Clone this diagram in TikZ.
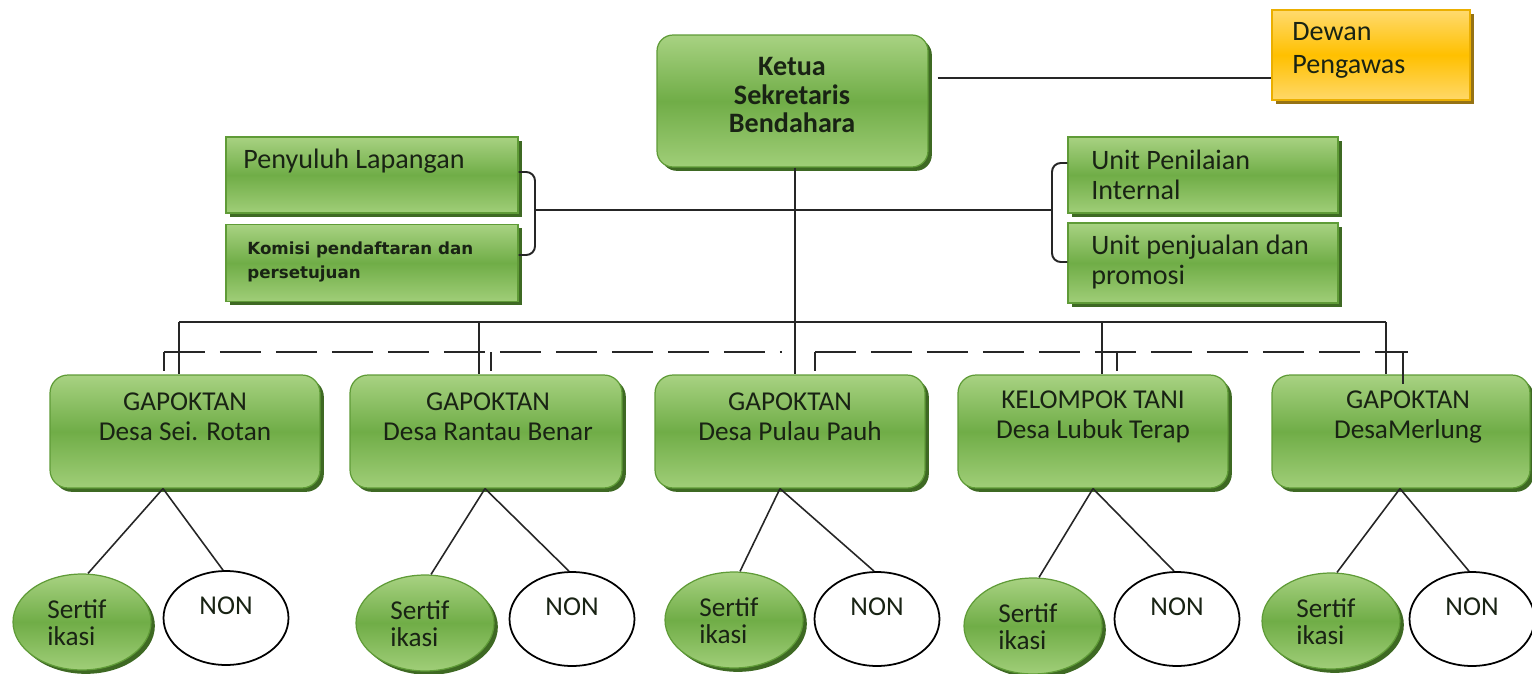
\documentclass[tikz,border=0pt]{standalone}
\usepackage{fontspec}
\setmainfont{Carlito}
\newfontfamily\komfont{DejaVu Sans}
\usetikzlibrary{shapes.geometric,shadows,calc}
\definecolor{gtop}{RGB}{168,210,130}
\definecolor{gmid}{RGB}{112,173,71}
\definecolor{gbot}{RGB}{160,206,120}
\definecolor{gborder}{RGB}{95,155,55}
\definecolor{gshadow}{RGB}{62,105,35}
\definecolor{ytop}{RGB}{255,218,110}
\definecolor{ymid}{RGB}{255,192,0}
\definecolor{ybot}{RGB}{255,216,105}
\definecolor{yborder}{RGB}{235,175,0}
\definecolor{yshadow}{RGB}{150,115,20}
\definecolor{txt}{RGB}{25,35,20}
\tikzset{
  x=0.02cm, y=-0.02cm,
  gfill/.style={draw=gborder, line width=0.7pt, top color=gtop, bottom color=gbot, middle color=gmid,
    drop shadow={fill=gshadow, shadow xshift=2.2pt, shadow yshift=-2.2pt, opacity=1}},
  sqbox/.style={gfill, rectangle, inner sep=0pt},
  rbox/.style={gfill, rectangle, rounded corners=0.36cm, inner sep=0pt,
    minimum width=5.4cm, minimum height=2.26cm},
  ybox/.style={draw=yborder, line width=0.7pt, top color=ytop, bottom color=ybot, middle color=ymid,
    drop shadow={fill=yshadow, shadow xshift=2.2pt, shadow yshift=-2.2pt, opacity=1},
    rectangle, inner sep=0pt},
  sert/.style={gfill, ellipse, inner sep=0pt, minimum width=2.76cm, minimum height=1.92cm},
  non/.style={draw=black, line width=1pt, fill=white, ellipse, inner sep=0pt, minimum width=2.5cm, minimum height=1.88cm},
  lbl/.style={text=txt, inner sep=0pt, font=\fontsize{16}{17}\selectfont, align=left},
  clbl/.style={text=txt, inner sep=0pt, font=\fontsize{15.5}{17}\selectfont, align=center},
  conn/.style={draw=black!85, line width=1.1pt},
  dconn/.style={draw=black!85, line width=1.1pt, dash pattern=on 0.82cm off 0.3cm},
}
\begin{document}
\begin{tikzpicture}
\useasboundingbox (0,0) rectangle (1532,673);
% top
\node[rbox, rounded corners=0.32cm, minimum width=5.42cm, minimum height=2.64cm] (ketua) at (792.5,101) {};
\node[text=txt, inner sep=0pt, align=center, font=\bfseries\fontsize{16}{16}\selectfont] (ketuat) at (792,95) {Ketua\\Sekretaris\\Bendahara};
\node[ybox, minimum width=3.96cm, minimum height=1.8cm] (dewan) at (1371,55) {};
\node[lbl, anchor=west, font=\fontsize{16}{18.7}\selectfont] (dewant) at (1292,50) {Dewan\\Pengawas};
% side boxes
\node[sqbox, minimum width=5.84cm, minimum height=1.52cm] (pen) at (372,175) {};
\node[lbl, anchor=west] (pent) at (243,161) {Penyuluh Lapangan};
\node[sqbox, minimum width=5.84cm, minimum height=1.54cm] (kom) at (372,263) {};
\node[lbl, anchor=west, font=\komfont\bfseries\fontsize{9.5}{13.6}\selectfont] (komt) at (247,262) {Komisi pendaftaran dan\\persetujuan};
\node[sqbox, minimum width=5.4cm, minimum height=1.52cm] (upi) at (1203,175) {};
\node[lbl, anchor=west] (upit) at (1091,175) {Unit Penilaian\\Internal};
\node[sqbox, minimum width=5.4cm, minimum height=1.6cm] (upj) at (1203,263) {};
\node[lbl, anchor=west] (upjt) at (1091,262) {Unit penjualan dan\\promosi};
% lower boxes
\node[rbox] (g1) at (185,431.5) {};
\node[clbl] (g1t) at (185,417) {GAPOKTAN\\Desa Sei. Rotan};
\node[rbox, minimum width=5.44cm] (g2) at (486,431.5) {};
\node[clbl] (g2t) at (488,417) {GAPOKTAN\\Desa Rantau Benar};
\node[rbox] (g3) at (790,431.5) {};
\node[clbl] (g3t) at (790,417) {GAPOKTAN\\Desa Pulau Pauh};
\node[rbox] (g4) at (1093,431.5) {};
\node[clbl] (g4t) at (1093,417) {KELOMPOK TANI\\Desa Lubuk Terap};
\node[rbox, minimum width=5.16cm] (g5) at (1401,431.5) {};
\node[clbl] (g5t) at (1408,417) {GAPOKTAN\\DesaMerlung};
% connectors top
\coordinate (kd) at ($(ketua.east)+(9,-23)$);
\draw[conn] (kd) -- (kd -| dewan.west);
\coordinate (lb) at (535,210);
\coordinate (rb) at (1052,210);
\draw[conn, rounded corners=5pt] ($(pen.east)+(0,-3)$) -| (lb) |- ($(kom.east)+(0,-8)$);
\draw[conn, rounded corners=5pt] ($(upi.west)+(0,-12)$) -| (rb) |- ($(upj.west)+(0,-1)$);
\draw[conn] (lb) -- (rb);
\coordinate (b1) at (179,322);
\coordinate (b2) at (479,322);
\coordinate (b3) at (795,322);
\coordinate (b4) at (1102,322);
\coordinate (b5) at (1386,322);
\draw[conn] (b3 |- ketua.south) -- (b3 |- g3.north);
\draw[conn] (b1) -- (b5);
\foreach \b/\g in {b1/g1,b2/g2,b4/g4,b5/g5} \draw[conn] (\b) -- (\b |- \g.north);
% dashed line and ticks
\coordinate (d1) at (164,352);
\coordinate (d2) at (491,352);
\coordinate (d3) at (815,352);
\coordinate (d4) at (1117,352);
\coordinate (d5) at (1403,352);
\coordinate (dl) at (782,352);
\coordinate (dr) at (1408,352);
\draw[dconn] (d1) -- (dl);
\draw[dconn] (d3) -- (dr);
\draw[conn] (d1) -- ($(d1 |- g1.north)+(0,-3)$);
\draw[conn] (d2) -- ($(d2 |- g2.north)+(0,-3)$);
\draw[conn] (d3) -- ($(d3 |- g3.north)+(0,-3)$);
\draw[conn] (d4) -- ($(d4 |- g4.north)+(0,-3)$);
\draw[conn] (d5) -- ($(d5 |- g5.north)+(0,10)$);
% ellipses
\node[sert] (s1) at (82,622) {};
\node[non] (n1) at (226,618) {};
\node[sert] (s2) at (425,623) {};
\node[non] (n2) at (572,619) {};
\node[sert] (s3) at (734,620) {};
\node[non] (n3) at (877,619) {};
\node[sert] (s4) at (1033,626) {};
\node[non] (n4) at (1177,619) {};
\node[sert] (s5) at (1331,621) {};
\node[non] (n5) at (1472,619) {};
\foreach \i in {1,...,5}{
  \node[lbl, anchor=west, font=\fontsize{15.5}{15.5}\selectfont] (s\i t) at ($(s\i)+(-35,1)$) {Sertif\\ikasi};
  \node[clbl] (n\i t) at ($(n\i)+(0,-12)$) {NON};
}
% tree lines
\coordinate (a1) at ($(g1.south)+(-22,0)$);
\coordinate (a2) at ($(g2.south)+(-1,0)$);
\coordinate (a3) at ($(g3.south)+(-10,0)$);
\coordinate (a4) at ($(g4.south)+(0,0)$);
\coordinate (a5) at ($(g5.south)+(-1,0)$);
\foreach \i in {1,...,5}{
  \draw[conn, line width=0.9pt] (a\i) -- ($(s\i.north)+(6,0)$);
  \draw[conn, line width=0.9pt] (a\i) -- ($(n\i.north)+(-3,0)$);
}
\end{tikzpicture}
\end{document}
